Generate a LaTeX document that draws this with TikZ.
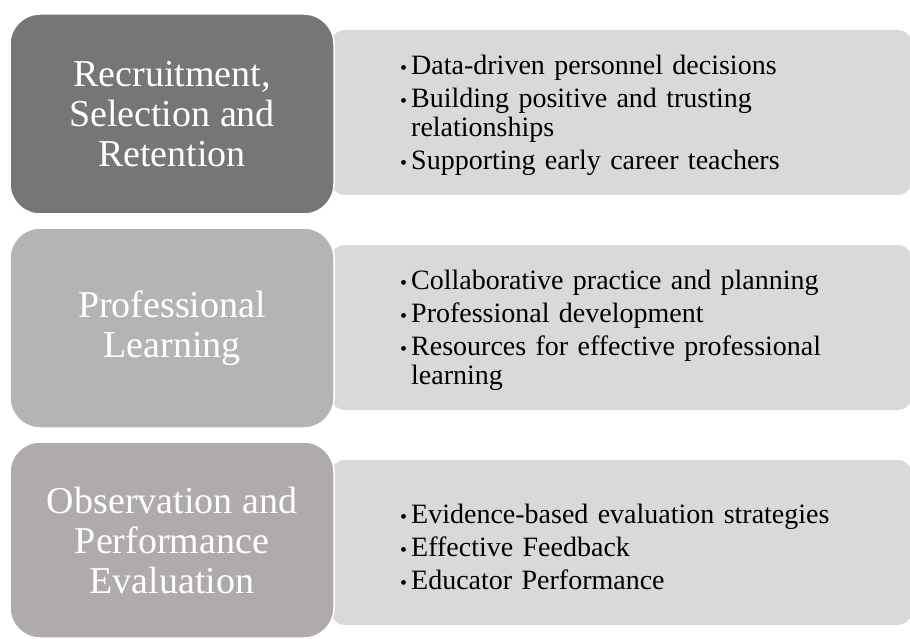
\documentclass[tikz,border=0pt]{standalone}
\usepackage{fontspec}
\setmainfont{Liberation Serif}
\definecolor{headA}{HTML}{767676}
\definecolor{headB}{HTML}{B4B4B4}
\definecolor{headC}{HTML}{AEABAA}
\definecolor{panelgray}{HTML}{D9D9D9}
% one bulleted entry with a hanging indent
\newcommand{\pitem}[1]{\par\hangindent=11pt\hangafter=1\noindent
  \makebox[11pt][l]{\raisebox{0pt}{\fontsize{20}{20}\selectfont\textbullet}}#1\par}
% spacing and line breaking for the bullet lists
\newcommand{\listsetup}{\fontsize{28}{29}\selectfont\parskip=4pt\relax
  \hyphenpenalty=10000\relax\raggedright}
\begin{document}
\begin{tikzpicture}[x=1pt,y=-1pt,
  head/.style={rectangle, rounded corners=30pt, draw=white, line width=1.5pt,
    minimum width=324pt, minimum height=200pt, text=white, align=center,
    font=\fontsize{38}{40}\selectfont, inner sep=0pt},
  panel/.style={rectangle, rounded corners=15pt, fill=panelgray,
    minimum width=582pt, minimum height=165pt, anchor=west, inner sep=0pt},
  items/.style={anchor=west, text width=470pt, align=left,
    font=\listsetup, inner sep=0pt, text=black}]
\useasboundingbox (0,0) rectangle (910,639);

% right-hand panels with their bullet lists
\node[panel] (p1) at (330,112.5) {};
\node[panel] (p2) at (330,327.5) {};
\node[panel] (p3) at (330,542.5) {};

\node[items] (l1) at (400,109) {%
  \pitem{Data-driven personnel decisions}
  \pitem{Building positive and trusting\newline relationships}
  \pitem{Supporting early career teachers}};
\node[items] (l2) at (400,324) {%
  \pitem{Collaborative practice and planning}
  \pitem{Professional development}
  \pitem{Resources for effective professional\newline learning}};
\node[items] (l3) at (400,540) {%
  \pitem{Evidence-based evaluation strategies}
  \pitem{Effective Feedback}
  \pitem{Educator Performance}};

% left-hand headings, drawn over the panels
\node[head, fill=headA] (h1) at (172,114) {Recruitment,\\Selection and\\Retention};
\node[head, fill=headB] (h2) at (172,328) {Professional\\Learning};
\node[head, fill=headC, minimum height=196pt] (h3) at (172,540) {Observation and\\Performance\\Evaluation};
\end{tikzpicture}
\end{document}
